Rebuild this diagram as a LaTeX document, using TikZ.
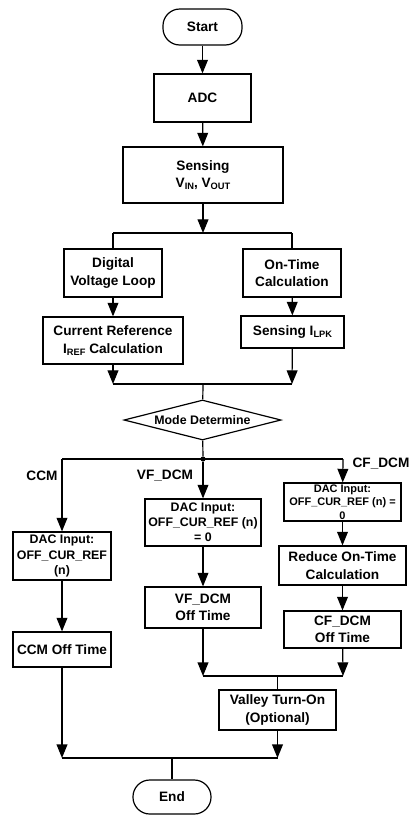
\documentclass[tikz,border=0pt]{standalone}
\usepackage{fontspec}
\setmainfont{Liberation Sans}
\usetikzlibrary{shapes.geometric,arrows.meta}
\newcommand{\subtxt}[1]{\raisebox{-0.3ex}{\fontsize{6.6}{6.6}\selectfont #1}}
\newcommand{\boxfont}{\bfseries\fontsize{9.7}{12.3}\selectfont}
\newcommand{\midfont}{\bfseries\fontsize{8.8}{10.8}\selectfont}
\newcommand{\tinyfont}{\bfseries\fontsize{7.8}{9.5}\selectfont}

\begin{document}
\begin{tikzpicture}[
	x=0.025cm,
	y=-0.025cm,
	proc node/.style={
		rectangle,
		draw=black,
		line width=0.85pt,
		inner sep=1pt,
		align=center,
		font=\boxfont
	},
	term node/.style={
		proc node,
		rounded corners=0.42cm
	},
	decide node/.style={
		diamond,
		draw=black,
		line width=0.85pt,
		shape aspect=4,
		inner sep=0pt,
		font=\midfont
	},
	label node/.style={
		inner sep=0pt,
		font=\boxfont
	},
	% Arrow and plain line styles
	flow/.style={
		draw=black,
		line width=0.85pt,
		-{Triangle[width=0.27cm,length=0.34cm]}
	},
	link/.style={
		draw=black,
		line width=0.85pt
	}
	]
	\useasboundingbox (0,0) rectangle (413,815);
	
	% ================= NODES =================
	\node[term node, minimum width=1.975cm, minimum height=0.9cm] (Start) at (202.5,27) {Start};
	\node[proc node, minimum width=2.425cm, minimum height=1.2cm] (ADC) at (202.5,98) {ADC};
	\node[proc node, minimum width=4cm, minimum height=1.4cm] (Sense) at (203,175) {Sensing\\V\subtxt{IN}, V\subtxt{OUT}};
	
	\node[proc node, minimum width=2.45cm, minimum height=1.2cm] (Loop) at (113,273) {Digital\\Voltage Loop};
	\node[proc node, minimum width=2.45cm, minimum height=1.2cm] (OnTime) at (292,273) {On-Time\\Calculation};
	\node[proc node, minimum width=3.5cm, minimum height=1.175cm] (CurRef) at (113,340.5) {Current Reference\\I\subtxt{REF} Calculation};
	\node[proc node, minimum width=2.575cm, minimum height=0.8cm] (ILpk) at (292.5,332) {Sensing I\subtxt{LPK}};
	
	\node[decide node, minimum width=3.925cm, minimum height=1cm] (Mode) at (202.5,420) {Mode Determine};
	\node[circle, fill=black, inner sep=0pt, minimum size=0.13cm] (Dot) at (203,459) {};
	
	\node[label node] (lCCM) at (42,476) {CCM};
	\node[label node] (lVF) at (165,476) {VF\_DCM};
	\node[label node] (lCF) at (381,464) {CF\_DCM};
	
	\node[proc node, font=\midfont, minimum width=2.45cm, minimum height=1.2cm] (CCMdac) at (62,556) {DAC Input:\\OFF\_CUR\_REF\\(n)};
	\node[proc node, font=\midfont, minimum width=2.9cm, minimum height=1.175cm] (VFdac) at (203,522.5) {DAC Input:\\OFF\_CUR\_REF (n)\\= 0};
	\node[proc node, font=\tinyfont, minimum width=2.925cm, minimum height=0.95cm] (CFdac) at (342.5,502) {DAC Input:\\OFF\_CUR\_REF (n) =\\0};
	\node[proc node, minimum width=3.175cm, minimum height=0.975cm] (Reduce) at (342.5,565.5) {Reduce On-Time\\Calculation};
	
	\node[proc node, minimum width=2.9cm, minimum height=1.025cm] (VFoff) at (203,607.5) {VF\_DCM\\Off Time};
	\node[proc node, minimum width=2.925cm, minimum height=0.925cm] (CFoff) at (342.5,629.5) {CF\_DCM\\Off Time};
	\node[proc node, minimum width=2.45cm, minimum height=0.875cm] (CCMoff) at (62,649.5) {CCM Off Time};
	\node[proc node, minimum width=2.925cm, minimum height=1cm] (Valley) at (277.5,710) {Valley Turn-On\\(Optional)};
	\node[term node, minimum width=1.95cm, minimum height=0.85cm] (End) at (172,797) {End};
	
	% ================= JOINTS =================
	\coordinate (SplitA) at (203,233);
	\coordinate (SplitAL) at (113,233);
	\coordinate (SplitAR) at (292,233);
	\coordinate (MergeA) at (203,384);
	\coordinate (MergeAL) at (113,384);
	\coordinate (MergeAR) at (292,384);
	\coordinate (BranchL) at (62,459);
	\coordinate (BranchR) at (343,459);
	\coordinate (MergeB) at (277.5,676);
	\coordinate (MergeBL) at (203,676);
	\coordinate (MergeBR) at (343,676);
	\coordinate (MergeC) at (172,758);
	\coordinate (MergeCL) at (62,758);
	\coordinate (MergeCR) at (277.5,758);
	
	% ================= EDGES =================
	\draw[flow] (Start) -- (ADC);
	\draw[flow] (ADC) -- (Sense);
	\draw[flow] (Sense) -- (SplitA);
	\draw[link] (SplitAL) -- (SplitAR);
	\draw[link] (SplitAL) -- (Loop);
	\draw[link] (SplitAR) -- (OnTime);
	\draw[flow] (Loop) -- (CurRef);
	\draw[flow] (OnTime) -- (ILpk);
	\draw[flow] (CurRef) -- (MergeAL);
	\draw[flow] (ILpk) -- (MergeAR);
	\draw[link] (MergeAL) -- (MergeAR);
	\draw[link] (MergeA) -- (Mode);
	\draw[link] (Mode) -- (Dot);
	\draw[link] (BranchL) -- (BranchR);
	\draw[flow] (BranchL) -- (CCMdac);
	\draw[flow] (Dot) -- (VFdac);
	\draw[flow] (BranchR) -- (CFdac);
	\draw[flow] (CCMdac) -- (CCMoff);
	\draw[flow] (VFdac) -- (VFoff);
	\draw[flow] (CFdac) -- (Reduce);
	\draw[flow] (Reduce) -- (CFoff);
	\draw[flow] (VFoff) -- (MergeBL);
	\draw[flow] (CFoff) -- (MergeBR);
	\draw[link] (MergeBL) -- (MergeBR);
	\draw[link] (MergeB) -- (Valley);
	\draw[flow] (Valley) -- (MergeCR);
	\draw[flow] (CCMoff) -- (MergeCL);
	\draw[link] (MergeCL) -- (MergeCR);
	\draw[link] (MergeC) -- (End);
	
\end{tikzpicture}
\end{document}
